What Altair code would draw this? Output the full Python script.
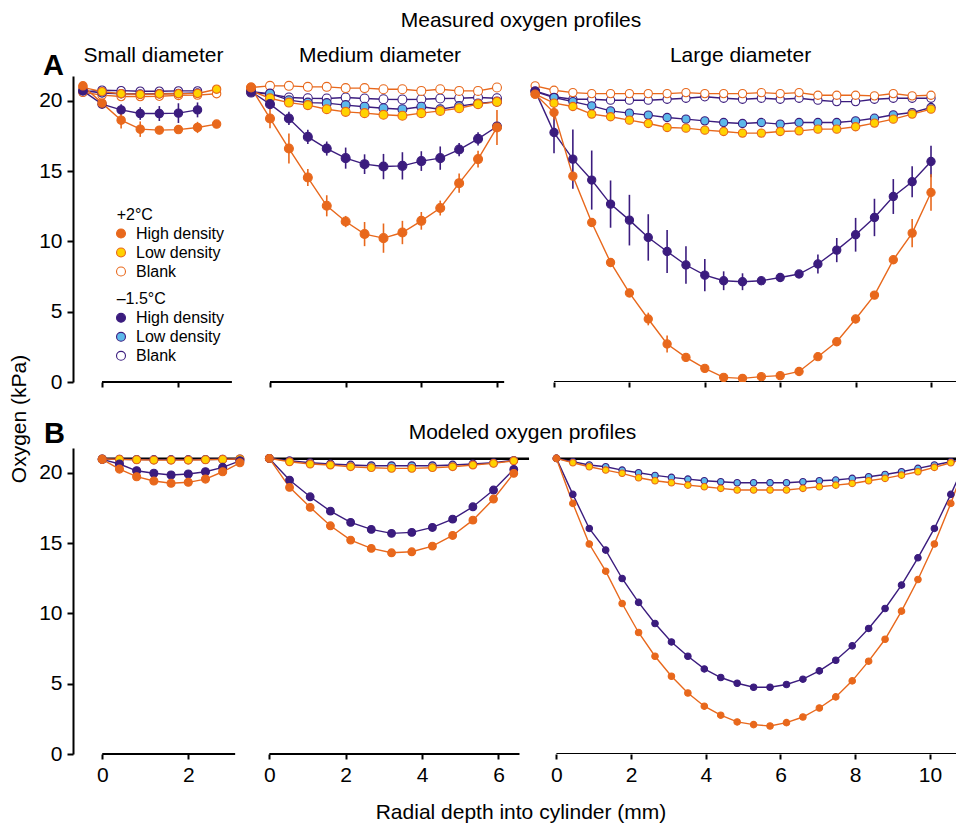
import altair as alt
import pandas as pd

# ---------------- colours ----------------
ORANGE = "#E8681C"
PURPLE = "#3B1C7E"
YELLOW = "#FFD200"
BLUE = "#5DB8EA"
WHITE = "#FFFFFF"

# draw order (last on top)
SERIES = ["cold_blank", "warm_blank", "cold_low", "warm_low", "cold_high", "warm_high"]
STROKES = [PURPLE, ORANGE, PURPLE, ORANGE, PURPLE, ORANGE]
FILLS = [WHITE, WHITE, BLUE, YELLOW, PURPLE, ORANGE]

FONT = "Liberation Sans"
YMAX = 21.76

# ---------------- measured (A) ----------------
small_x_meas = [-0.5, 0.0, 0.5, 1.0, 1.5, 2.0, 2.5, 3.0]
small_meas = {
    "warm_high": [21.06, 19.83, 18.62, 17.98, 17.91, 17.95, 18.10, 18.34],
    "cold_high": [20.70, 19.76, 19.35, 19.09, 19.09, 19.12, 19.35],
    "warm_low": [20.95, 20.65, 20.50, 20.45, 20.48, 20.50, 20.52, 20.82],
    "cold_low": [20.72, 20.55, 20.50, 20.48, 20.50, 20.52, 20.55],
    "warm_blank": [20.60, 20.40, 20.30, 20.30, 20.32, 20.38, 20.40, 20.50],
    "cold_blank": [20.62, 20.75, 20.72, 20.68, 20.68, 20.70, 20.70],
}
small_err = {
    "warm_high": [0.10, 0.40, 0.60, 0.55, 0.25, 0.15, 0.40, 0.10],
    "cold_high": [0.10, 0.30, 0.40, 0.45, 0.53, 0.70, 0.53],
}

medium_x_meas = [-0.5, 0.0, 0.5, 1.0, 1.5, 2.0, 2.5, 3.0, 3.5, 4.0, 4.5, 5.0, 5.5, 6.0]
medium_meas = {
    "warm_high": [20.94, 18.74, 16.60, 14.54, 12.53, 11.41, 10.52, 10.23, 10.63, 11.46, 12.37, 14.14, 15.85, 18.10],
    "cold_high": [20.65, 19.76, 18.74, 17.43, 16.60, 15.92, 15.49, 15.32, 15.37, 15.71, 15.92, 16.53, 17.29, 18.17],
    "cold_low": [20.65, 20.51, 20.04, 19.87, 19.83, 19.69, 19.57, 19.47, 19.40, 19.57, 19.40, 19.62, 19.80, 19.94],
    "warm_low": [20.70, 20.18, 19.87, 19.69, 19.40, 19.21, 19.12, 19.00, 18.93, 19.12, 19.28, 19.47, 19.76, 19.92],
    "cold_blank": [20.58, 20.47, 20.23, 20.18, 20.16, 20.23, 20.16, 20.11, 20.09, 20.11, 20.16, 20.18, 20.23, 20.18],
    "warm_blank": [20.94, 21.06, 21.06, 20.99, 20.99, 20.90, 20.90, 20.82, 20.82, 20.70, 20.82, 20.70, 20.70, 20.94],
}
medium_err = {
    "warm_high": [0.10, 0.69, 1.07, 0.60, 0.75, 0.40, 0.86, 1.04, 0.83, 0.63, 0.53, 0.69, 0.60, 1.25],
    "cold_high": [0.10, 0.20, 0.47, 0.50, 0.50, 0.75, 0.70, 0.90, 0.97, 0.70, 0.83, 0.47, 0.47, 0.30],
    "warm_low": [0.0, 0.15, 0.20, 0.20, 0.20, 0.20, 0.25, 0.25, 0.30, 0.25, 0.25, 0.20, 0.20, 0.15],
    "cold_low": [0.0, 0.15, 0.15, 0.15, 0.15, 0.15, 0.15, 0.15, 0.15, 0.15, 0.15, 0.15, 0.15, 0.10],
}

large_x_meas = [-0.5, 0.0, 0.5, 1.0, 1.5, 2.0, 2.5, 3.0, 3.5, 4.0, 4.5, 5.0,
                5.5, 6.0, 6.5, 7.0, 7.5, 8.0, 8.5, 9.0, 9.5, 10.0]
large_meas = {
    "warm_high": [20.47, 19.16, 14.64, 11.34, 8.50, 6.33, 4.48, 2.70, 1.75, 0.97, 0.33, 0.26,
                  0.38, 0.45, 0.75, 1.80, 2.86, 4.48, 6.18, 8.69, 10.59, 13.48],
    "cold_high": [20.70, 17.74, 15.85, 14.36, 12.65, 11.51, 10.28, 9.28, 8.32, 7.60, 7.20, 7.13,
                  7.20, 7.43, 7.68, 8.39, 9.38, 10.47, 11.70, 13.19, 14.24, 15.68],
    "cold_low": [20.65, 20.23, 19.94, 19.64, 19.28, 19.12, 18.98, 18.81, 18.69, 18.57, 18.45, 18.38,
                 18.45, 18.34, 18.45, 18.45, 18.45, 18.57, 18.76, 19.00, 19.16, 19.52],
    "warm_low": [20.47, 19.83, 19.59, 19.05, 18.86, 18.62, 18.38, 18.10, 18.05, 17.91, 17.81, 17.70,
                 17.70, 17.81, 17.86, 17.98, 17.98, 18.15, 18.41, 18.69, 19.05, 19.40],
    "cold_blank": [20.70, 20.28, 20.11, 20.11, 20.04, 20.04, 20.04, 20.11, 20.18, 20.28, 20.18, 20.11,
                   20.18, 20.11, 20.18, 20.04, 19.94, 19.94, 20.11, 20.18, 20.18, 20.18],
    "warm_blank": [21.06, 20.75, 20.58, 20.51, 20.51, 20.51, 20.51, 20.51, 20.58, 20.51, 20.51, 20.51,
                   20.58, 20.51, 20.58, 20.39, 20.39, 20.39, 20.35, 20.51, 20.35, 20.39],
}
large_err = {
    "warm_high": [0.10, 0.50, 0.30, 0.25, 0.30, 0.25, 0.45, 0.60, 0.30, 0.25, 0.15, 0.30,
                  0.15, 0.15, 0.15, 0.20, 0.20, 0.30, 0.20, 0.25, 1.00, 1.30],
    "cold_high": [0.10, 1.48, 2.10, 2.10, 1.68, 1.80, 1.65, 1.53, 1.34, 1.15, 0.67, 0.60,
                  0.20, 0.20, 0.20, 0.67, 0.86, 1.20, 1.33, 1.24, 1.10, 1.12],
    "warm_low": [0.0, 0.15, 0.20, 0.25, 0.20, 0.20, 0.20, 0.20, 0.20, 0.20, 0.20, 0.20,
                 0.20, 0.20, 0.20, 0.20, 0.20, 0.20, 0.20, 0.20, 0.20, 0.15],
}

# ---------------- modeled (B) ----------------
small_x_mod = [0.0, 0.4, 0.8, 1.2, 1.6, 2.0, 2.4, 2.8, 3.2]
small_mod = {
    "cold_high": [20.95, 20.62, 20.14, 19.96, 19.84, 19.91, 20.07, 20.38, 20.85],
    "warm_high": [20.95, 20.26, 19.72, 19.41, 19.25, 19.32, 19.55, 20.07, 20.71],
    "cold_low": [20.98, 20.96, 20.94, 20.93, 20.93, 20.93, 20.94, 20.96, 20.98],
    "warm_low": [20.98, 20.95, 20.92, 20.90, 20.90, 20.90, 20.92, 20.95, 20.98],
}

medium_x_mod = [0.0, 0.53, 1.07, 1.6, 2.13, 2.67, 3.2, 3.73, 4.27, 4.8, 5.33, 5.87, 6.4]
medium_mod = {
    "cold_high": [21.02, 19.48, 18.29, 17.27, 16.47, 15.97, 15.69, 15.76, 16.11, 16.70, 17.58, 18.77, 20.24],
    "warm_high": [21.02, 18.96, 17.54, 16.23, 15.21, 14.62, 14.31, 14.38, 14.78, 15.54, 16.63, 18.13, 19.96],
    "cold_low": [21.02, 20.85, 20.71, 20.62, 20.55, 20.50, 20.50, 20.50, 20.50, 20.55, 20.62, 20.71, 20.88],
    "warm_low": [21.02, 20.78, 20.62, 20.55, 20.43, 20.36, 20.31, 20.31, 20.36, 20.43, 20.55, 20.67, 20.85],
}

large_x_mod = [0.0, 0.44, 0.88, 1.32, 1.76, 2.2, 2.64, 3.08, 3.52, 3.96, 4.4, 4.84, 5.28,
               5.72, 6.16, 6.6, 7.04, 7.48, 7.92, 8.36, 8.8, 9.24, 9.68, 10.12, 10.56, 11.0]
large_mod = {
    "cold_high": [21.02, 18.46, 16.04, 14.50, 12.48, 10.78, 9.28, 7.97, 6.95, 6.05, 5.44, 5.03, 4.75,
                  4.75, 4.94, 5.32, 5.91, 6.67, 7.69, 8.93, 10.35, 12.01, 13.95, 16.04, 18.46, 21.02],
    "warm_high": [21.02, 17.82, 14.93, 13.00, 10.70, 8.64, 6.95, 5.53, 4.34, 3.40, 2.76, 2.28, 2.09,
                  1.99, 2.23, 2.63, 3.27, 4.06, 5.20, 6.60, 8.16, 10.16, 12.41, 14.93, 17.82, 21.02],
    "cold_low": [21.02, 20.78, 20.55, 20.43, 20.19, 20.00, 19.81, 19.67, 19.55, 19.43, 19.36, 19.29, 19.29,
                 19.29, 19.29, 19.36, 19.43, 19.48, 19.60, 19.72, 19.88, 20.07, 20.31, 20.55, 20.78, 21.02],
    "warm_low": [21.02, 20.71, 20.43, 20.19, 19.96, 19.64, 19.43, 19.29, 19.12, 19.00, 18.89, 18.77, 18.77,
                 18.77, 18.77, 18.89, 19.00, 19.12, 19.24, 19.43, 19.60, 19.83, 20.07, 20.38, 20.71, 21.02],
}

AIR_O2 = 21.0
y_ticks = [0, 5, 10, 15, 20]

legend_groups = [
    ("+2\u00b0C", [("warm_high", "High density"), ("warm_low", "Low density"), ("warm_blank", "Blank")]),
    ("\u20131.5\u00b0C", [("cold_high", "High density"), ("cold_low", "Low density"), ("cold_blank", "Blank")]),
]


def to_long(xs, vals, errs=None):
    rows = []
    errs = errs or {}
    for s in SERIES:
        if s not in vals:
            continue
        e = errs.get(s, [0.0] * len(vals[s]))
        for xv, yv, ev in zip(xs, vals[s], e):
            rows.append({"x": xv, "y": yv, "err": ev, "series": s})
    return pd.DataFrame(rows)


stroke_enc = alt.Stroke("series:N", scale=alt.Scale(domain=SERIES, range=STROKES), legend=None)
fill_enc = alt.Fill("series:N", scale=alt.Scale(domain=SERIES, range=FILLS), legend=None)


def txt(s, x, y, size=21, bold=False, align="center", baseline="alphabetic", angle=0):
    return alt.Chart(pd.DataFrame({"t": [s]})).mark_text(
        font=FONT, fontSize=size, fontWeight="bold" if bold else "normal",
        align=align, baseline=baseline, angle=angle, color="black"
    ).encode(x=alt.value(x), y=alt.value(y), text="t:N")


def panel(df, domain, width, ticks, axis_end, show_y, show_xlabels, size,
          model_end=None, extras=(), clip=False):
    xs = alt.Scale(domain=domain, nice=False, zero=False)
    ys = alt.Scale(domain=[0, YMAX], nice=False, zero=False)
    xaxis = alt.Axis(values=ticks, domain=False, grid=False, ticks=True, tickSize=5,
                     tickWidth=2, tickColor="black", labels=show_xlabels,
                     labelFontSize=21, labelFont=FONT, labelColor="black",
                     labelPadding=5, title=None)
    if show_y:
        yaxis = alt.Axis(values=y_ticks, domain=True, domainWidth=2, domainColor="black",
                         grid=False, ticks=True, tickSize=6, tickWidth=2, tickColor="black",
                         labelFontSize=21, labelFont=FONT, labelColor="black",
                         labelPadding=5, title=None)
    else:
        yaxis = None

    def X(f):
        return alt.X(f, type="quantitative", scale=xs, axis=xaxis)

    def Y(f):
        return alt.Y(f, type="quantitative", scale=ys, axis=yaxis)

    layers = []
    layers.append(
        alt.Chart(pd.DataFrame({"a": [0.0], "b": [axis_end], "z": [0.0]}))
        .mark_rule(color="black", strokeWidth=2, clip=clip)
        .encode(x=X("a"), x2="b", y=Y("z"))
    )
    if model_end is not None:
        layers.append(
            alt.Chart(pd.DataFrame({"a": [0.0], "b": [model_end], "z": [AIR_O2]}))
            .mark_rule(color="black", strokeWidth=2.5, clip=clip)
            .encode(x=X("a"), x2="b", y=Y("z"))
        )
    layers.append(
        alt.Chart(df).mark_line(strokeWidth=1.4, clip=clip)
        .encode(x=X("x"), y=Y("y"), stroke=stroke_enc, detail="series:N")
    )
    edf = df[df["err"] > 0]
    if len(edf):
        layers.append(
            alt.Chart(edf).transform_calculate(lo="datum.y - datum.err", hi="datum.y + datum.err")
            .mark_rule(strokeWidth=1.6, clip=clip)
            .encode(x=X("x"), y=Y("lo"), y2="hi:Q", stroke=stroke_enc)
        )
    layers.append(
        alt.Chart(df).mark_point(filled=True, opacity=1, size=size, strokeWidth=1.1, clip=clip)
        .encode(x=X("x"), y=Y("y"), fill=fill_enc, stroke=stroke_enc)
    )
    layers.extend(extras)
    return alt.layer(*layers).properties(width=width, height=306)


# -------- annotations placed around the top-left panel --------
top_extras = [
    txt("Measured oxygen profiles", 448, -49),
    txt("Small diameter", 80.5, -14),
    txt("Medium diameter", 307, -14),
    txt("Large diameter", 667.5, -14),
    txt("A", -19.5, -1, size=29, bold=True),
    txt("Oxygen (kPa)", -53, 343, baseline="middle", angle=270),
]
ly = 139
for head, items in legend_groups:
    top_extras.append(txt(head, 43.7, ly, size=16, align="left", baseline="middle"))
    for k, (s, lab) in enumerate(items):
        yy = ly + 18.5 + k * 19
        i = SERIES.index(s)
        top_extras.append(
            alt.Chart(pd.DataFrame({"s": [s]})).mark_point(
                filled=True, opacity=1, size=80, fill=FILLS[i], stroke=STROKES[i], strokeWidth=1.1
            ).encode(x=alt.value(48), y=alt.value(yy))
        )
        top_extras.append(txt(lab, 63, yy, size=16, align="left", baseline="middle"))
    ly += 84.3

bottom_extras = [
    txt("Modeled oxygen profiles", 449.5, -9),
    txt("B", -18.5, -5, size=29, bold=True),
    txt("Radial depth into cylinder (mm)", 448, 371),
]

ts = panel(to_long(small_x_meas, small_meas, small_err), [-0.76, 3.743], 172, [0, 2], 3.40,
           True, False, 70, extras=top_extras)
tm = panel(to_long(medium_x_meas, medium_meas, medium_err), [-0.661, 6.873], 285, [0, 2, 4, 6], 6.19,
           False, False, 80)
tl = panel(to_long(large_x_meas, large_meas, large_err), [-0.637, 10.663], 426, [0, 2, 4, 6, 8, 10], 10.663,
           False, False, 68, clip=True)

bs = panel(to_long(small_x_mod, small_mod), [-0.68, 3.319], 172, [0, 2], 3.09,
           True, True, 64, model_end=3.2, extras=bottom_extras)
bm = panel(to_long(medium_x_mod, medium_mod), [-0.636, 6.825], 285, [0, 2, 4, 6], 6.55,
           False, True, 60, model_end=6.8)
bl = panel(to_long(large_x_mod, large_mod), [-0.707, 10.699], 426, [0, 2, 4, 6, 8, 10], 10.699,
           False, True, 42, model_end=10.699, clip=True)

chart = (
    alt.concat(ts, tm, tl, bs, bm, bl, columns=3, spacing={"row": 66, "column": 0}, bounds="flush")
    .resolve_scale(x="independent", y="independent")
    .configure_view(stroke=None)
    .properties(padding={"left": 1, "top": 2, "right": 0, "bottom": 0})
)

chart.save("out.html", embed_options={"renderer": "svg", "actions": False})
